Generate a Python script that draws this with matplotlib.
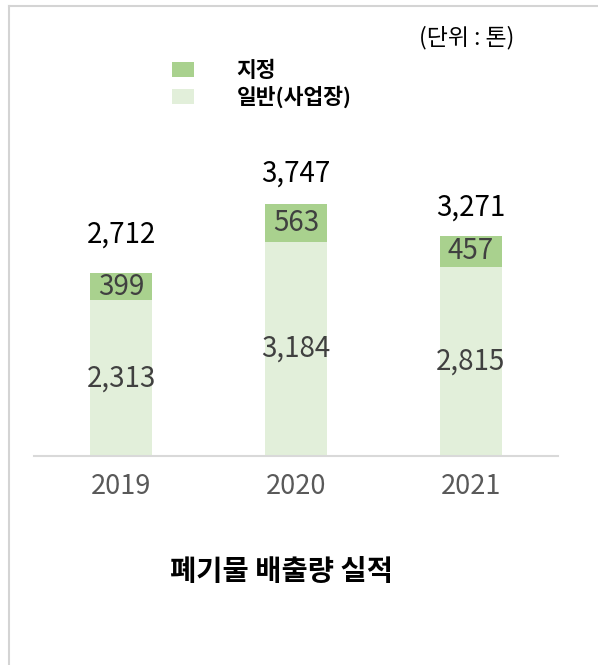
import matplotlib.pyplot as plt
from matplotlib.lines import Line2D

plt.rcParams['font.family'] = ['Noto Sans CJK KR', 'DejaVu Sans']

# 데이터 (단위: 톤)
years = ['2019', '2020', '2021']
designated = [399, 563, 457]      # 지정
general = [2313, 3184, 2815]      # 일반(사업장)
totals = [2712, 3747, 3271]

W, H = 598, 665
fig = plt.figure(figsize=(W / 100, H / 100), dpi=100)
ax = fig.add_axes([34 / W, (H - 456) / H, (558 - 34) / W, (456 - 60) / H])

x = list(range(len(years)))
b_gen = ax.bar(x, general, width=0.355, color='#e2efda', label='일반(사업장)')
b_des = ax.bar(x, designated, width=0.355, bottom=general, color='#a9d18e', label='지정')

ax.set_xlim(-0.5, 2.5)
ax.set_ylim(0, 5884)

# 막대 안쪽 값
for i in x:
    ax.text(i, general[i] / 2, f'{general[i]:,}', ha='center', va='center',
            fontsize=20, color='#404040')
    ax.text(i, general[i] + designated[i] / 2, f'{designated[i]:,}', ha='center',
            va='center', fontsize=20, color='#404040')

# 합계 값 (막대 위)
offsets = [28, 22, 20]
for i in x:
    ax.annotate(f'{totals[i]:,}', (i, totals[i]), xytext=(0, offsets[i]),
                textcoords='offset points', ha='center', va='center',
                fontsize=20, color='black')

for s in ['top', 'left', 'right']:
    ax.spines[s].set_visible(False)
ax.spines['bottom'].set_color('#d9d9d9')
ax.spines['bottom'].set_linewidth(1.5)
ax.set_yticks([])
ax.set_xticks(x)
ax.set_xticklabels(years, fontsize=19.5, color='#595959')
ax.tick_params(axis='x', length=0, pad=12)

fig.legend([b_des, b_gen], ['지정', '일반(사업장)'], loc='upper left',
           bbox_to_anchor=(172 / W, 1 - 60 / H), frameon=False,
           prop={'size': 15.5, 'weight': 'bold'},
           handlelength=1.0, handleheight=0.65, handletextpad=2.0,
           labelspacing=0.22, borderpad=0, borderaxespad=0)

fig.text(467 / W, 1 - 38 / H, '(단위 : 톤)', ha='center', va='center', fontsize=16.5)
fig.text(281 / W, 1 - 572 / H, '폐기물 배출량 실적', ha='center', va='center',
         fontsize=20.5, fontweight='bold')

# 테두리
fig.add_artist(Line2D([9 / W, 9 / W], [0, 1 - 6 / H], color='#d4d4d4', lw=1.5))
fig.add_artist(Line2D([9 / W, 1], [1 - 6 / H, 1 - 6 / H], color='#d4d4d4', lw=1.5))

fig.savefig('out.png', dpi=100)
